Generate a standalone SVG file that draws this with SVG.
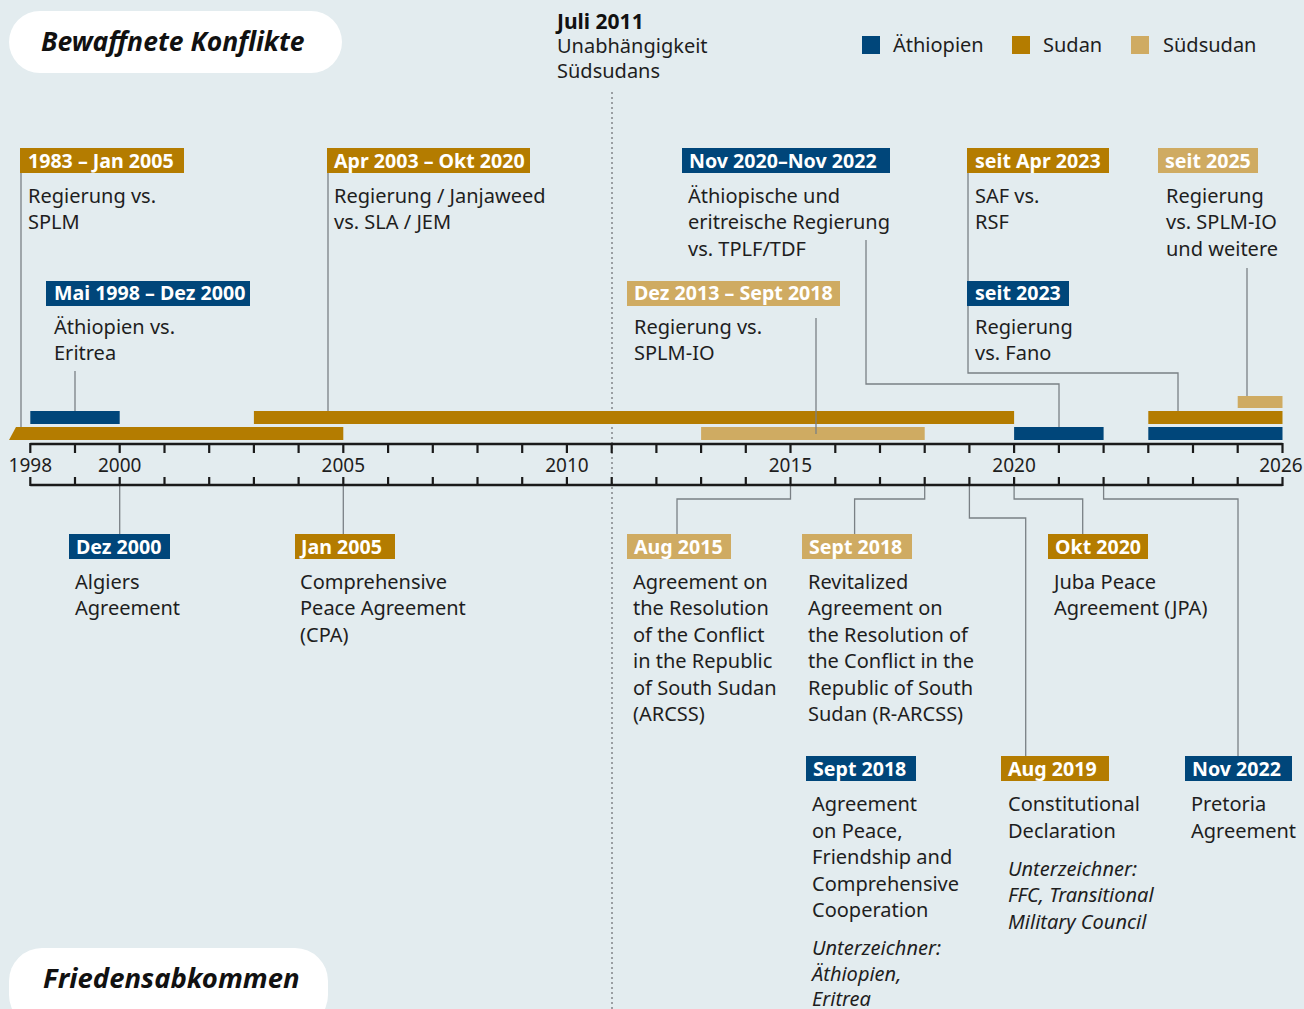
<svg xmlns="http://www.w3.org/2000/svg" width="1304" height="1009" viewBox="0 0 1304 1009">
<style>
.bg{fill:#e3ecef}
.pill{fill:#ffffff}
.title{font-family:"Noto Sans","Open Sans",sans-serif;font-weight:700;font-style:italic;font-size:26.5px;fill:#111}
.lab{font-family:"Noto Sans","Open Sans",sans-serif;font-weight:700;font-size:19.6px;fill:#ffffff}
.txt{font-family:"Noto Sans","Open Sans",sans-serif;font-size:20px;fill:#1e1e1e}
.it{font-family:"Noto Sans","Open Sans",sans-serif;font-size:20px;font-style:italic;fill:#1e1e1e}
.bold{font-family:"Noto Sans","Open Sans",sans-serif;font-size:21px;font-weight:700;fill:#111}
.eth{fill:#00467a}
.sud{fill:#b47c00}
.ssd{fill:#cfab62}
.conn{fill:none;stroke:#7a8085;stroke-width:1.3}
.axis{fill:none;stroke:#1a1a1a;stroke-width:2.5}
.tick{stroke:#1a1a1a;stroke-width:2.2}
.year{font-family:"Noto Sans","Open Sans",sans-serif;font-size:19px;fill:#1e1e1e;text-anchor:middle}
</style>
<rect class="bg" x="0" y="0" width="1304" height="1009"/>

<g id="header-konflikte">
<rect class="pill" x="9" y="11" width="333" height="62" rx="31"/>
<text class="title" x="41" y="51">Bewaffnete Konflikte</text>
</g>
<g id="header-frieden">
<rect class="pill" x="9" y="948" width="319" height="80" rx="33"/>
<text class="title" x="43" y="988" style="font-size:27.5px">Friedensabkommen</text>
</g>

<g id="legend">
<rect class="eth" x="862" y="36" width="18" height="18"/>
<text class="txt" x="893" y="52">Äthiopien</text>
<rect class="sud" x="1012" y="36" width="18" height="18"/>
<text class="txt" x="1043" y="52">Sudan</text>
<rect class="ssd" x="1131" y="36" width="18" height="18"/>
<text class="txt" x="1163" y="52">Südsudan</text>
</g>

<g id="independence">
<text class="bold" x="557" y="29">Juli 2011</text>
<text class="txt" x="557" y="53">Unabhängigkeit</text>
<text class="txt" x="557" y="78">Südsudans</text>
<line x1="612" y1="92" x2="612" y2="1009" stroke="#9a9ea2" stroke-width="2" stroke-dasharray="2 3"/>
</g>

<g id="bars">
<rect class="eth" x="30.3" y="411" width="89.4" height="13"/>
<polygon class="sud" points="16,427 343.3,427 343.3,440 9,440"/>
<rect class="sud" x="253.9" y="411" width="760.2" height="13"/>
<rect class="ssd" x="701.1" y="427" width="223.6" height="13"/>
<rect class="eth" x="1014.1" y="427" width="89.5" height="13"/>
<rect class="sud" x="1148.3" y="411" width="134.2" height="13"/>
<rect class="eth" x="1148.3" y="427" width="134.2" height="13"/>
<rect class="ssd" x="1237.7" y="396" width="44.8" height="12"/>
</g>

<g id="connectors">
<path class="conn" d="M21,173 V427"/>
<path class="conn" d="M328,173 V411"/>
<path class="conn" d="M75,371 V411"/>
<path class="conn" d="M816,318 V434"/>
<path class="conn" d="M866,240 V384 H1059 V427"/>
<path class="conn" d="M968,173 V373 H1178 V411"/>
<path class="conn" d="M1247,268 V396"/>
<path class="conn" d="M119.7,485 V534"/>
<path class="conn" d="M343.3,485 V534"/>
<path class="conn" d="M790.5,485 V499 H677 V534"/>
<path class="conn" d="M924.7,485 V499 H854.6 V534"/>
<path class="conn" d="M1014.1,485 V499 H1082.7 V534"/>
<path class="conn" d="M969.4,485 V518 H1025.7 V756"/>
<path class="conn" d="M1103.6,485 V499 H1238 V756"/>
</g>

<g id="axis">
<path class="axis" d="M30.3,444 H1282.5"/>
<path class="axis" d="M30.3,485 H1282.5"/>
<path class="tick" d="M30.3,443 V453 M75,443 V453 M119.7,443 V453 M164.5,443 V453 M209.2,443 V453 M253.9,443 V453 M298.6,443 V453 M343.3,443 V453 M388.1,443 V453 M432.8,443 V453 M477.5,443 V453 M522.2,443 V453 M566.9,443 V453 M611.7,443 V453 M656.4,443 V453 M701.1,443 V453 M745.8,443 V453 M790.5,443 V453 M835.3,443 V453 M880,443 V453 M924.7,443 V453 M969.4,443 V453 M1014.1,443 V453 M1058.9,443 V453 M1103.6,443 V453 M1148.3,443 V453 M1193,443 V453 M1237.7,443 V453 M1282.5,443 V453"/>
<path class="tick" d="M30.3,477 V486 M75,477 V486 M119.7,477 V486 M164.5,477 V486 M209.2,477 V486 M253.9,477 V486 M298.6,477 V486 M343.3,477 V486 M388.1,477 V486 M432.8,477 V486 M477.5,477 V486 M522.2,477 V486 M566.9,477 V486 M611.7,477 V486 M656.4,477 V486 M701.1,477 V486 M745.8,477 V486 M790.5,477 V486 M835.3,477 V486 M880,477 V486 M924.7,477 V486 M969.4,477 V486 M1014.1,477 V486 M1058.9,477 V486 M1103.6,477 V486 M1148.3,477 V486 M1193,477 V486 M1237.7,477 V486 M1282.5,477 V486"/>
<text class="year" x="30.3" y="472">1998</text>
<text class="year" x="119.7" y="472">2000</text>
<text class="year" x="343.3" y="472">2005</text>
<text class="year" x="566.9" y="472">2010</text>
<text class="year" x="790.5" y="472">2015</text>
<text class="year" x="1014.1" y="472">2020</text>
<text class="year" x="1281" y="472">2026</text>
</g>

<g id="k-1983">
<rect class="sud" x="20" y="148" width="164" height="25"/>
<text class="lab" x="28" y="168">1983 – Jan 2005</text>
<text class="txt" x="28" y="203">Regierung vs.</text>
<text class="txt" x="28" y="229">SPLM</text>
</g>
<g id="k-2003">
<rect class="sud" x="327" y="148" width="203" height="25"/>
<text class="lab" x="334" y="168">Apr 2003 – Okt 2020</text>
<text class="txt" x="334" y="203">Regierung / Janjaweed</text>
<text class="txt" x="334" y="229">vs. SLA / JEM</text>
</g>
<g id="k-1998">
<rect class="eth" x="46" y="281" width="204" height="25"/>
<text class="lab" x="54" y="300">Mai 1998 – Dez 2000</text>
<text class="txt" x="54" y="334">Äthiopien vs.</text>
<text class="txt" x="54" y="360">Eritrea</text>
</g>
<g id="k-2013">
<rect class="ssd" x="627" y="281" width="213" height="25"/>
<text class="lab" x="634" y="300">Dez 2013 – Sept 2018</text>
<text class="txt" x="634" y="334">Regierung vs.</text>
<text class="txt" x="634" y="360">SPLM-IO</text>
</g>
<g id="k-2020">
<rect class="eth" x="682" y="148" width="208" height="25"/>
<text class="lab" x="689" y="168">Nov 2020–Nov 2022</text>
<text class="txt" x="688" y="203">Äthiopische und</text>
<text class="txt" x="688" y="229">eritreische Regierung</text>
<text class="txt" x="688" y="256">vs. TPLF/TDF</text>
</g>
<g id="k-apr2023">
<rect class="sud" x="967" y="148" width="142" height="25"/>
<text class="lab" x="975" y="168">seit Apr 2023</text>
<text class="txt" x="975" y="203">SAF vs.</text>
<text class="txt" x="975" y="229">RSF</text>
</g>
<g id="k-2023">
<rect class="eth" x="967" y="281" width="102" height="25"/>
<text class="lab" x="975" y="300">seit 2023</text>
<text class="txt" x="975" y="334">Regierung</text>
<text class="txt" x="975" y="360">vs. Fano</text>
</g>
<g id="k-2025">
<rect class="ssd" x="1158" y="148" width="100" height="25"/>
<text class="lab" x="1165" y="168">seit 2025</text>
<text class="txt" x="1166" y="203">Regierung</text>
<text class="txt" x="1166" y="229">vs. SPLM-IO</text>
<text class="txt" x="1166" y="256">und weitere</text>
</g>

<g id="f-dez2000">
<rect class="eth" x="69" y="534" width="101" height="25"/>
<text class="lab" x="76" y="554">Dez 2000</text>
<text class="txt" x="75" y="589">Algiers</text>
<text class="txt" x="75" y="615">Agreement</text>
</g>
<g id="f-jan2005">
<rect class="sud" x="295" y="534" width="100" height="25"/>
<text class="lab" x="301" y="554">Jan 2005</text>
<text class="txt" x="300" y="589">Comprehensive</text>
<text class="txt" x="300" y="615">Peace Agreement</text>
<text class="txt" x="300" y="642">(CPA)</text>
</g>
<g id="f-aug2015">
<rect class="ssd" x="627" y="534" width="104" height="25"/>
<text class="lab" x="634" y="554">Aug 2015</text>
<text class="txt" x="633" y="589">Agreement on</text>
<text class="txt" x="633" y="615">the Resolution</text>
<text class="txt" x="633" y="642">of the Conflict</text>
<text class="txt" x="633" y="668">in the Republic</text>
<text class="txt" x="633" y="695">of South Sudan</text>
<text class="txt" x="633" y="721">(ARCSS)</text>
</g>
<g id="f-sept2018-ss">
<rect class="ssd" x="802" y="534" width="110" height="25"/>
<text class="lab" x="809" y="554">Sept 2018</text>
<text class="txt" x="808" y="589">Revitalized</text>
<text class="txt" x="808" y="615">Agreement on</text>
<text class="txt" x="808" y="642">the Resolution of</text>
<text class="txt" x="808" y="668">the Conflict in the</text>
<text class="txt" x="808" y="695">Republic of South</text>
<text class="txt" x="808" y="721">Sudan (R-ARCSS)</text>
</g>
<g id="f-okt2020">
<rect class="sud" x="1048" y="534" width="100" height="25"/>
<text class="lab" x="1055" y="554">Okt 2020</text>
<text class="txt" x="1054" y="589">Juba Peace</text>
<text class="txt" x="1054" y="615">Agreement (JPA)</text>
</g>
<g id="f-sept2018-eth">
<rect class="eth" x="806" y="756" width="110" height="25"/>
<text class="lab" x="813" y="776">Sept 2018</text>
<text class="txt" x="812" y="811">Agreement</text>
<text class="txt" x="812" y="838">on Peace,</text>
<text class="txt" x="812" y="864">Friendship and</text>
<text class="txt" x="812" y="891">Comprehensive</text>
<text class="txt" x="812" y="917">Cooperation</text>
<text class="it" x="812" y="955">Unterzeichner:</text>
<text class="it" x="812" y="981">Äthiopien,</text>
<text class="it" x="812" y="1006">Eritrea</text>
</g>
<g id="f-aug2019">
<rect class="sud" x="1001" y="756" width="108" height="25"/>
<text class="lab" x="1008" y="776">Aug 2019</text>
<text class="txt" x="1008" y="811">Constitutional</text>
<text class="txt" x="1008" y="838">Declaration</text>
<text class="it" x="1008" y="876">Unterzeichner:</text>
<text class="it" x="1008" y="902">FFC, Transitional</text>
<text class="it" x="1008" y="929">Military Council</text>
</g>
<g id="f-nov2022">
<rect class="eth" x="1185" y="756" width="107" height="25"/>
<text class="lab" x="1192" y="776">Nov 2022</text>
<text class="txt" x="1191" y="811">Pretoria</text>
<text class="txt" x="1191" y="838">Agreement</text>
</g>
</svg>
